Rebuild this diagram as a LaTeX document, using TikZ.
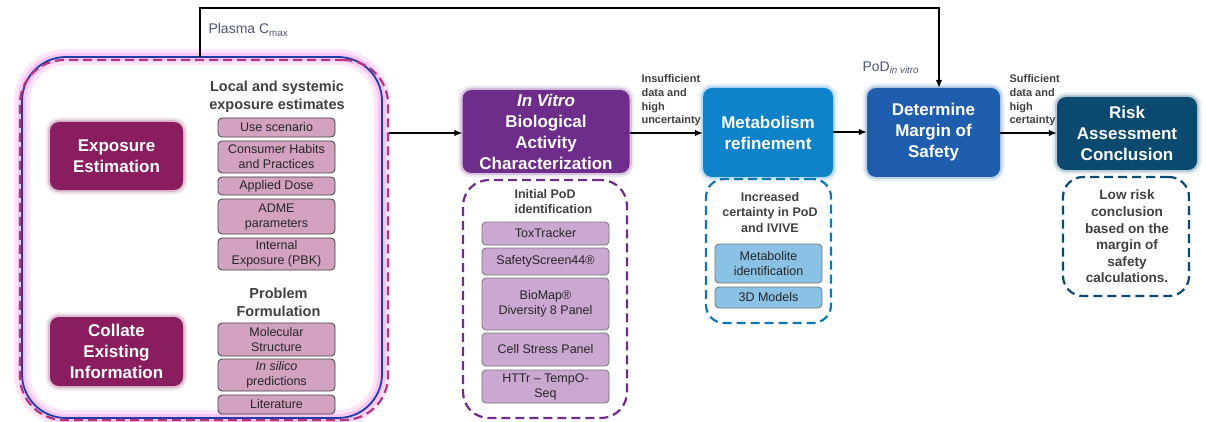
\documentclass[tikz,border=0pt]{standalone}
\usepackage{fontspec}
\setmainfont{Liberation Sans}
\usetikzlibrary{arrows.meta}

\definecolor{plum}{HTML}{8A1D5F}
\definecolor{plumlight}{HTML}{D3A2C1}
\definecolor{vitro}{HTML}{6E2C8B}
\definecolor{vitrolight}{HTML}{CBA8D2}
\definecolor{metab}{HTML}{0E83C9}
\definecolor{metablight}{HTML}{8AC2E6}
\definecolor{margin}{HTML}{1F5EAE}
\definecolor{risk}{HTML}{0B4A70}
\definecolor{glowpink}{HTML}{F7A6EC}
\definecolor{groupblue}{HTML}{1D3EA6}
\definecolor{groupdash}{HTML}{B3347F}
\definecolor{darktext}{HTML}{404040}
\definecolor{slate}{HTML}{4B5775}

\tikzset{
  stage/.style={fill=#1, rounded corners=9pt, text=white, align=center, inner sep=0pt,
    font=\fontsize{17}{21}\selectfont\bfseries,
    preaction={draw=#1!40, line width=9pt, opacity=0.25},
    preaction={draw=#1!50, line width=4.5pt, opacity=0.45}},
  item/.style={fill=#1, rounded corners=4pt, align=center, inner sep=0pt,
    line width=0.8pt, text=black!85, font=\fontsize{12.5}{15}\selectfont},
  dashbox/.style={draw=#1, dash pattern=on 9pt off 5pt, line width=2.2pt},
  heading/.style={text=darktext, align=center, font=\fontsize{14.5}{18}\selectfont\bfseries},
  note/.style={text=darktext, align=left, font=\fontsize{11}{13.7}\selectfont\bfseries},
}

\begin{document}
\begin{tikzpicture}[x=1pt, y=-1pt]
  \useasboundingbox (0,0) rectangle (1206,422);

  % exposure group
  \node[draw=groupblue, line width=1.8pt, rounded corners=44pt,
        minimum width=360pt, minimum height=361pt,
        preaction={draw=glowpink, line width=16pt, opacity=0.3},
        preaction={draw=glowpink, line width=8pt, opacity=0.5}]
        (expgroup) at (202,237.5) {};
  \node[dashbox=groupdash, rounded corners=44pt,
        minimum width=368pt, minimum height=360pt] (expdash) at (204,240) {};

  \node[stage=plum, minimum width=133pt, minimum height=68pt] (exposure)
        at (116.5,156) {Exposure\\Estimation};
  \node[stage=plum, minimum width=133pt, minimum height=69pt] (collate)
        at (116.5,351.5) {Collate\\Existing\\Information};

  \node[heading] (localhead) at (277,97) {Local and systemic\\exposure estimates};
  \node[heading] (problemhead) at (278.5,302.5) {Problem\\Formulation};

  \begin{scope}[every node/.style={item=plumlight, draw=black!75, minimum width=117pt}]
    \node[minimum height=19pt] (usescen) at (276.5,127.5) {Use scenario};
    \node[minimum height=32pt] (habits) at (276.5,157) {Consumer Habits\\and Practices};
    \node[minimum height=18pt] (dose) at (276.5,186) {Applied Dose};
    \node[minimum height=35pt] (adme) at (276.5,216.5) {ADME\\parameters};
    \node[minimum height=32pt] (pbk) at (276.5,254) {Internal\\Exposure (PBK)};
    \node[minimum height=33pt] (molstruct) at (276.5,339.5) {Molecular\\Structure};
    \node[minimum height=32pt] (insilico) at (276.5,375) {\textit{In silico}\\predictions};
    \node[minimum height=19pt] (literature) at (276.5,404.5) {Literature};
  \end{scope}

  % in vitro
  \node[stage=vitro, minimum width=167pt, minimum height=83pt] (invitro)
        at (546,131.5) {\textit{In Vitro}\\Biological\\Activity\\Characterization};
  \node[dashbox=vitro, rounded corners=26pt, minimum width=164pt, minimum height=238pt]
        (vitrogroup) at (545,299) {};
  \node[heading, align=left, font=\fontsize{12.5}{14.7}\selectfont\bfseries, anchor=west]
        (podhead) at (511,201.5) {Initial PoD\\identification};

  \begin{scope}[every node/.style={item=vitrolight, draw=black!55, minimum width=127pt}]
    \node[minimum height=23pt] (toxtracker) at (545.5,233.5) {ToxTracker};
    \node[minimum height=27pt] (safety) at (545.5,261.5) {SafetyScreen44®};
    \node[minimum height=52pt] (biomap) at (545.5,304) {BioMap®\\Diversitẏ 8 Panel};
    \node[minimum height=33pt] (cellstress) at (545.5,349.5) {Cell Stress Panel};
    \node[minimum height=33pt] (httr) at (545.5,386.5) {HTTr – TempO-\\Seq};
  \end{scope}

  % metabolism
  \node[stage=metab, minimum width=130pt, minimum height=89pt] (metabol)
        at (768,132.5) {Metabolism\\refinement};
  \node[dashbox=metab!90!black, rounded corners=18pt, minimum width=125pt, minimum height=144pt]
        (metabgroup) at (768.5,251) {};
  \node[heading, font=\fontsize{12.5}{15.3}\selectfont\bfseries] (certhead)
        at (770,212.5) {Increased\\certainty in PoD\\and IVIVE};

  \begin{scope}[every node/.style={item=metablight, draw=black!55, minimum width=107pt}]
    \node[minimum height=39pt] (metabolite) at (768.5,263.5) {Metabolite\\identification};
    \node[minimum height=21pt] (models) at (768.5,297.5) {3D Models};
  \end{scope}

  % margin of safety and conclusion
  \node[stage=margin, minimum width=133pt, minimum height=89pt] (determine)
        at (933.5,132.5) {Determine\\Margin of\\Safety};
  \node[stage=risk, minimum width=140pt, minimum height=73pt] (riskconc)
        at (1127,133.5) {Risk\\Assessment\\Conclusion};
  \node[dashbox=risk, rounded corners=20pt, minimum width=126pt, minimum height=119pt]
        (riskgroup) at (1126,236.5) {};
  \node[heading, font=\fontsize{13.6}{16.6}\selectfont\bfseries] (lowrisk)
        at (1127,236.5) {Low risk\\conclusion\\based on the\\margin of\\safety\\calculations.};

  % labels
  \node[anchor=west, text=slate, font=\fontsize{14}{16}\selectfont] (cmax)
        at (205,30) {Plasma C\textsubscript{max}};
  \node[anchor=west, text=slate, font=\fontsize{14}{16}\selectfont] (podvitro)
        at (859,68) {PoD\textsubscript{\itshape in vitro}};
  \node[note, anchor=west] (insuff) at (638,100.5) {Insufficient\\data and\\high\\uncertainty};
  \node[note, anchor=west] (suff) at (1006,100.5) {Sufficient\\data and\\high\\certainty};

  % connectors
  \coordinate (plasma) at (200,57);
  \coordinate (plasmatop) at (939,8);
  \begin{scope}[->, >={Latex[length=8pt,width=6.5pt]}, line width=1.3pt]
    \draw (expdash.east |- 0,133) -- (invitro.west |- 0,133);
    \draw (invitro.east |- 0,133) -- (metabol.west |- 0,133);
    \draw (metabol.east |- 0,132) -- (determine.west |- 0,132);
    \draw (determine.east |- 0,133) -- (riskconc.west |- 0,133);
    \draw (plasma) |- (plasmatop) -- (plasmatop |- determine.north);
  \end{scope}
\end{tikzpicture}
\end{document}
